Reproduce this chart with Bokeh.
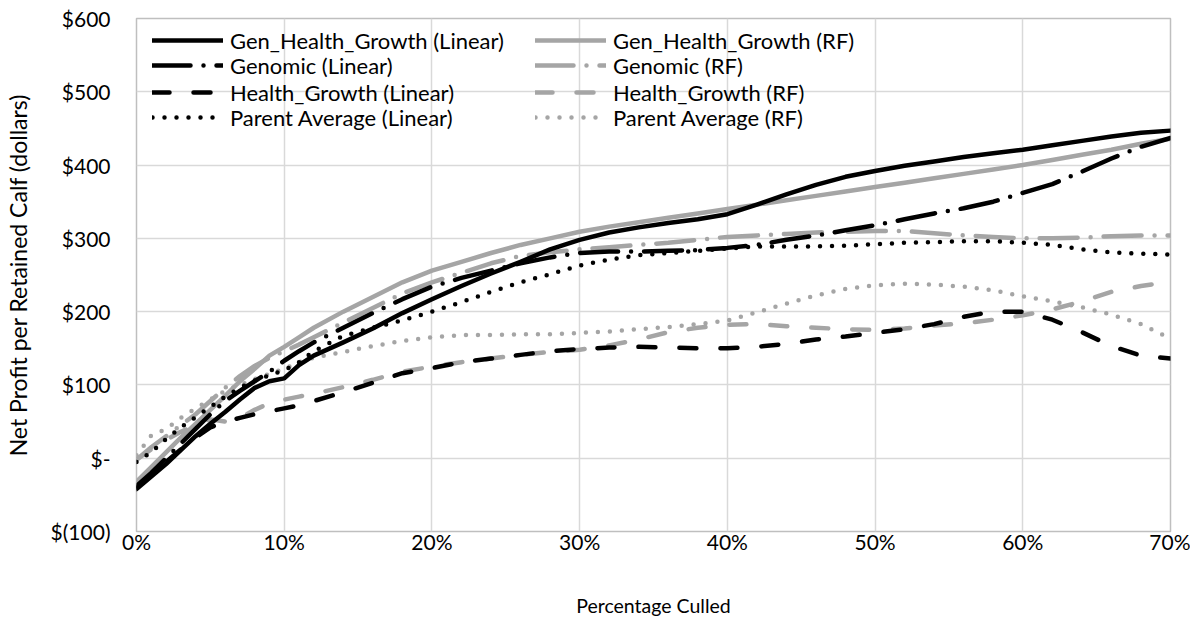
from bokeh.plotting import figure
from bokeh.models import Range1d, FixedTicker, Legend, LegendItem
from bokeh.embed import file_html
from bokeh.resources import INLINE

# ---- data (percentage culled, net profit in dollars) ----
pct = [0, 1, 2, 3, 4, 5, 6, 7, 8, 9, 10, 11, 12, 14, 16, 18, 20, 22, 24, 26, 28, 30,
       32, 34, 36, 38, 40, 42, 44, 46, 48, 50, 52, 54, 56, 58, 60, 62, 64, 66, 68, 70]

gen_health_growth_linear = [-42, -25, -8, 11, 30, 47, 63, 80, 96, 105, 109, 127, 140, 158, 177, 198, 217, 235,
                            252, 268, 285, 298, 308, 315, 321, 326, 333, 346, 360, 373, 384, 392, 399, 405,
                            411, 416, 421, 427, 433, 439, 444, 447]
gen_health_growth_rf = [-32, -12, 8, 28, 47, 66, 85, 105, 122, 140, 152, 165, 178, 200, 220, 240, 256, 268,
                        280, 291, 300, 309, 316, 322, 328, 334, 340, 346, 352, 358, 364, 370, 376, 382,
                        388, 394, 400, 407, 414, 421, 429, 436]
genomic_linear = [-38, -20, 0, 20, 40, 60, 78, 92, 105, 118, 133, 146, 158, 178, 198, 217, 234, 246,
                  256, 266, 274, 280, 282, 282, 283, 284, 287, 291, 298, 304, 311, 318, 326, 334,
                  341, 350, 362, 374, 391, 409, 425, 437]
genomic_rf = [-2, 15, 30, 45, 60, 78, 96, 112, 126, 137, 146, 155, 165, 185, 205, 225, 240, 253,
              266, 276, 281, 285, 288, 291, 294, 298, 302, 304, 306, 308, 309, 310, 310, 307,
              304, 302, 300, 300, 301, 303, 304, 304]
health_growth_linear = [-40, -22, -5, 12, 28, 42, 50, 55, 60, 64, 68, 72, 78, 90, 103, 116, 123, 131,
                        136, 141, 146, 149, 151, 152, 151, 150, 150, 152, 156, 162, 166, 171, 176, 183,
                        193, 200, 200, 189, 172, 153, 140, 136]
health_growth_rf = [-2, 12, 25, 36, 45, 53, 50, 55, 66, 75, 80, 84, 88, 97, 107, 118, 125, 131,
                    136, 141, 145, 148, 154, 162, 172, 178, 182, 183, 180, 178, 176, 175, 177, 181,
                    184, 189, 195, 203, 214, 227, 235, 241]
parent_avg_linear = [-5, 8, 26, 42, 56, 70, 84, 96, 106, 113, 120, 131, 146, 167, 178, 188, 200, 213,
                     227, 240, 251, 263, 271, 277, 280, 283, 286, 289, 289, 289, 290, 292, 294, 295,
                     296, 296, 294, 291, 285, 281, 279, 278]
parent_avg_rf = [4, 31, 40, 55, 68, 80, 92, 100, 108, 115, 122, 131, 137, 145, 153, 160, 165, 168,
                 168, 169, 169, 171, 173, 176, 179, 183, 188, 199, 211, 222, 231, 236, 238, 237,
                 234, 229, 221, 214, 206, 196, 183, 163]

x_ticks = [0, 10, 20, 30, 40, 50, 60, 70]
x_tick_labels = ["0%", "10%", "20%", "30%", "40%", "50%", "60%", "70%"]
y_ticks = [-100, 0, 100, 200, 300, 400, 500, 600]
y_tick_labels = ["$(100)", "$-", "$100", "$200", "$300", "$400", "$500", "$600"]

FONT = "Lato"
BLACK = "#000000"
GRAY = "#a5a5a5"

p = figure(frame_width=1034, frame_height=513, output_backend="svg", toolbar_location=None,
           x_range=Range1d(0, 70), y_range=Range1d(-100, 600),
           min_border_left=130, min_border_right=20, min_border_top=18, min_border_bottom=83)
p.outline_line_color = "#bfbfbf"
p.outline_line_width = 1.5
p.background_fill_color = "white"
p.border_fill_color = "white"

for ax in (p.xaxis[0], p.yaxis[0]):
    ax.axis_line_color = None
    ax.major_tick_line_color = None
    ax.minor_tick_line_color = None
    ax.major_tick_out = 0
    ax.major_tick_in = 0
    ax.minor_tick_out = 0
    ax.minor_tick_in = 0
    ax.major_label_text_font = FONT
    ax.major_label_text_font_size = "21px"
    ax.major_label_text_color = "#000000"
    ax.axis_label_text_font = FONT
    ax.axis_label_text_font_style = "normal"
    ax.axis_label_text_color = "#000000"

p.xaxis.ticker = FixedTicker(ticks=x_ticks)
p.xaxis.major_label_overrides = dict(zip(x_ticks, x_tick_labels))
p.yaxis.ticker = FixedTicker(ticks=y_ticks)
p.yaxis.major_label_overrides = dict(zip(y_ticks, y_tick_labels))
p.xaxis.axis_label = "Percentage Culled"
p.yaxis.axis_label = "Net Profit per Retained Calf (dollars)"
p.xaxis.axis_label_text_font_size = "19.5px"
p.yaxis.axis_label_text_font_size = "23px"
p.xaxis.major_label_standoff = -3
p.xaxis.axis_label_standoff = 37
p.yaxis.major_label_standoff = 26
p.yaxis.axis_label_standoff = 16

p.xgrid.ticker = FixedTicker(ticks=x_ticks)
p.ygrid.ticker = FixedTicker(ticks=y_ticks)
p.xgrid.grid_line_color = "#d9d9d9"
p.ygrid.grid_line_color = "#d9d9d9"
p.xgrid.grid_line_width = 1.5
p.ygrid.grid_line_width = 1.5

LW = 4.5
DASHDOT = "38 13 0 13"
DASH = "17 24"
DOT = "0 12"

series = [
    ("Gen_Health_Growth (Linear)", gen_health_growth_linear, BLACK, "solid"),
    ("Genomic (Linear)", genomic_linear, BLACK, DASHDOT),
    ("Health_Growth (Linear)", health_growth_linear, BLACK, DASH),
    ("Parent Average (Linear)", parent_avg_linear, BLACK, DOT),
    ("Gen_Health_Growth (RF)", gen_health_growth_rf, GRAY, "solid"),
    ("Genomic (RF)", genomic_rf, GRAY, DASHDOT),
    ("Health_Growth (RF)", health_growth_rf, GRAY, DASH),
    ("Parent Average (RF)", parent_avg_rf, GRAY, DOT),
]

renderers = {}
draw_order = [4, 5, 6, 7, 0, 1, 2, 3]
for i in draw_order:
    name, ys, col, dash = series[i]
    r = p.line(pct, ys, line_color=col, line_width=LW, line_dash=dash,
               line_cap="round", line_join="round")
    renderers[name] = r

# one legend per entry so rows can sit exactly as in the reference
row_y = [477, 452, 425, 400]
col_x = [16, 399]
for idx, (name, ys, col, dash) in enumerate(series):
    c = idx // 4
    rrow = idx % 4
    lg = Legend(items=[LegendItem(label=name, renderers=[renderers[name]])],
                location=(col_x[c], row_y[rrow]), orientation="vertical",
                background_fill_alpha=0, border_line_alpha=0,
                padding=0, margin=0, spacing=0,
                glyph_width=71, glyph_height=28, label_height=28,
                label_standoff=7,
                label_text_font=FONT, label_text_font_size="22px",
                label_text_color="#000000")
    p.add_layout(lg, "center")

open("out.html", "w").write(file_html(p, INLINE))
